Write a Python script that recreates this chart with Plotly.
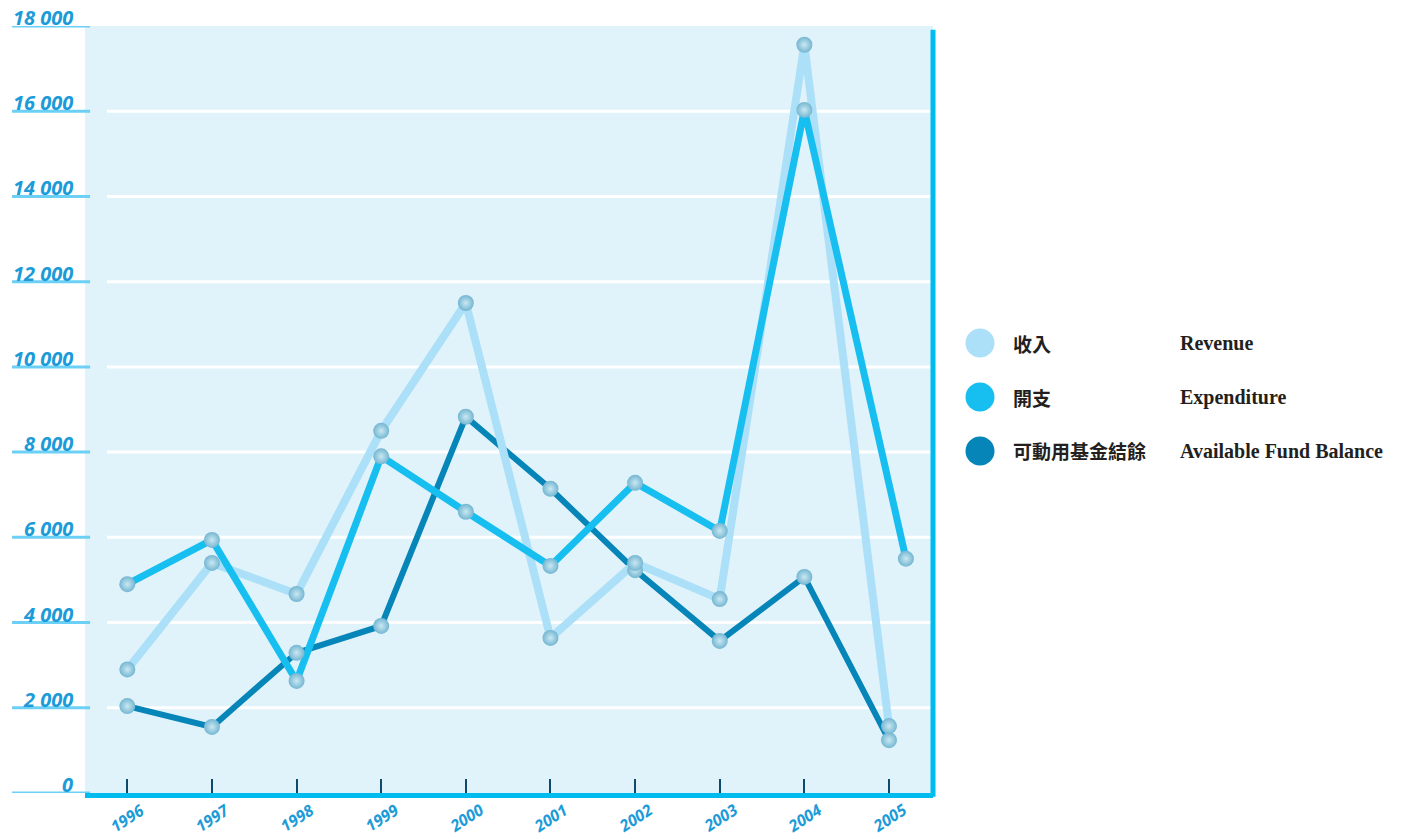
import plotly.graph_objects as go

years = [1996, 1997, 1998, 1999, 2000, 2001, 2002, 2003, 2004, 2005]
# the last Expenditure point sits slightly right of the 2005 tick in the source
expenditure_years = [1996, 1997, 1998, 1999, 2000, 2001, 2002, 2003, 2004, 2005.2]
revenue = [2900, 5400, 4670, 8500, 11500, 3640, 5400, 4550, 17560, 1570]
expenditure = [4900, 5940, 2630, 7900, 6600, 5330, 7280, 6150, 16030, 5500]
fund_balance = [2040, 1550, 3290, 3920, 8830, 7140, 5230, 3570, 5070, 1240]
y_ticks = [0, 2000, 4000, 6000, 8000, 10000, 12000, 14000, 16000, 18000]
y_tick_labels = ["0", "2 000", "4 000", "6 000", "8 000", "10 000", "12 000", "14 000", "16 000", "18 000"]
series_zh = ["收入", "開支", "可動用基金結餘"]
series_en = ["Revenue", "Expenditure", "Available Fund Balance"]
series_colors = ["#ABE0F8", "#17BEF0", "#0585B8"]
line_widths = [8, 7, 6]

LABEL_BLUE = "#1C9BD8"
fig = go.Figure()

series = [
    (years, revenue, 0),
    (expenditure_years, expenditure, 1),
    (years, fund_balance, 2),
]
draw_order = [2, 0, 1]
for idx in draw_order:
    xs, ys, i = series[idx]
    fig.add_trace(go.Scatter(x=xs, y=ys, mode="lines", name=series_en[i],
                             line=dict(color=series_colors[i], width=line_widths[i]),
                             showlegend=False, hoverinfo="skip"))
for idx in draw_order:
    xs, ys, i = series[idx]
    fig.add_trace(go.Scatter(x=xs, y=ys, mode="markers", name=series_en[i],
                             marker=dict(size=16, color="#74B6D1",
                                         gradient=dict(type="radial", color="#C9E8F3"),
                                         line=dict(width=0)),
                             showlegend=False))

# figure is placed at (8, 8) by the page's body margin
PLOT_L, PLOT_R, PLOT_T, PLOT_B = 85, 933, 26, 793
OFF = 8
W, H = 1407 - OFF, 839 - OFF
plot_w, plot_h = PLOT_R - PLOT_L, PLOT_B - PLOT_T

shapes = []
annotations = []
for v, lab in zip(y_ticks, y_tick_labels):
    if 0 < v < 18000:
        shapes.append(dict(type="line", xref="paper", yref="y", x0=0.026, x1=1, y0=v, y1=v,
                           line=dict(color="white", width=3), layer="below"))
    shapes.append(dict(type="line", xref="paper", yref="y", x0=-0.086, x1=0.006, y0=v, y1=v,
                       line=dict(color="#6CCFF5", width=3)))
    annotations.append(dict(x=(75 - PLOT_L) / plot_w, y=v, xref="paper", yref="y", text=lab,
                            showarrow=False, xanchor="right", yanchor="bottom", yshift=-7,
                            font=dict(family="Open Sans", size=20, color=LABEL_BLUE,
                                      style="italic", weight=700)))

shapes.append(dict(type="line", xref="paper", yref="paper", x0=1.0, x1=1.0, y0=-0.005, y1=0.995,
                   line=dict(color="#00BCEE", width=5)))

for yr in years:
    annotations.append(dict(x=yr, y=-0.032, xref="x", yref="paper", text=str(yr), showarrow=False,
                            textangle=-33, xanchor="center", yanchor="middle",
                            font=dict(family="Open Sans", size=16, color=LABEL_BLUE,
                                      style="italic", weight=700)))

legend_y = [343, 397, 451]
for i in range(3):
    cy = (PLOT_B - legend_y[i]) / plot_h
    cx = (980 - PLOT_L) / plot_w
    rx, ry = 14.5 / plot_w, 14.5 / plot_h
    shapes.append(dict(type="circle", xref="paper", yref="paper", x0=cx - rx, x1=cx + rx,
                       y0=cy - ry, y1=cy + ry, fillcolor=series_colors[i], line=dict(width=0)))
    annotations.append(dict(x=(1011 - PLOT_L) / plot_w, y=cy, xref="paper", yref="paper",
                            text=series_zh[i], showarrow=False, xanchor="left", yanchor="middle",
                            font=dict(family="Noto Sans CJK TC", size=19, color="#231F20",
                                      weight="bold")))
    annotations.append(dict(x=(1178 - PLOT_L) / plot_w, y=cy, xref="paper", yref="paper",
                            text=series_en[i], showarrow=False, xanchor="left", yanchor="middle",
                            font=dict(family="Liberation Serif", size=20, color="#231F20",
                                      weight="bold")))

fig.update_layout(
    width=W, height=H,
    margin=dict(l=PLOT_L - OFF, r=W - (PLOT_R - OFF), t=PLOT_T - OFF, b=H - (PLOT_B - OFF)),
    paper_bgcolor="white",
    plot_bgcolor="#E0F2FA",
    showlegend=False,
    shapes=shapes,
    annotations=annotations,
    xaxis=dict(range=[1995.5, 2005.52], tickvals=years, showticklabels=False,
               ticks="inside", ticklen=14, tickwidth=2, tickcolor="#0E4A6E",
               showgrid=False, zeroline=False, showline=True, linecolor="#00BCEE", linewidth=5),
    yaxis=dict(range=[0, 18000], showticklabels=False, showgrid=False, zeroline=False,
               showline=False, ticks=""),
)

fig.write_html("out.html")
